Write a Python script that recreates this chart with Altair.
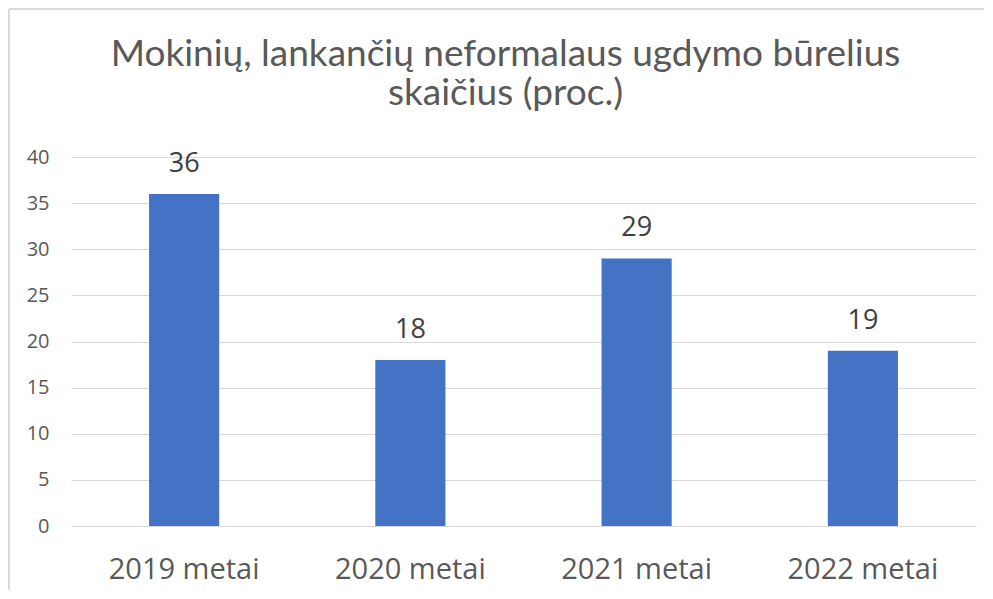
import altair as alt
import pandas as pd

categories = ["2019 metai", "2020 metai", "2021 metai", "2022 metai"]
values = [36, 18, 29, 19]
title_lines = ["Mokinių, lankančių neformalaus ugdymo būrelius", "skaičius (proc.)"]

df = pd.DataFrame({"metai": categories, "proc": values})

x = alt.X("metai:N", sort=categories, title=None,
          scale=alt.Scale(paddingInner=0.69, paddingOuter=0.345),
          axis=alt.Axis(labelAngle=0, ticks=False, domain=False, labelPadding=29,
                        labelFont="Open Sans", labelFontSize=29, labelColor="#595959"))
y = alt.Y("proc:Q", title=None,
          scale=alt.Scale(domain=[0, 40], nice=False),
          axis=alt.Axis(values=[0, 5, 10, 15, 20, 25, 30, 35, 40], ticks=False, domain=False,
                        labelPadding=22, labelFont="Open Sans", labelFontSize=20,
                        labelColor="#595959", gridColor="#d9d9d9", gridWidth=1))

bars = alt.Chart(df).mark_bar(color="#4472C4").encode(x=x, y=y)
labels = alt.Chart(df).mark_text(dy=-22, baseline="alphabetic", font="Open Sans",
                                 fontSize=27, color="#404040").encode(
    x=alt.X("metai:N", sort=categories), y="proc:Q", text="proc:Q")

frame_df = pd.DataFrame({"a": [0]})
border_top = alt.Chart(frame_df).mark_rule(color="#d9d9d9", strokeWidth=2).encode(
    x=alt.value(-62), x2=alt.value(913), y=alt.value(-148))
border_left = alt.Chart(frame_df).mark_rule(color="#d9d9d9", strokeWidth=2).encode(
    x=alt.value(-62), y=alt.value(-148), y2=alt.value(433))

chart = alt.layer(border_top, border_left, bars, labels).properties(
    width=905, height=369,
    background="white",
    autosize=alt.AutoSizeParams(type="none"),
    padding={"left": 63, "top": 149, "right": 9, "bottom": 65},
    title=alt.TitleParams(text=title_lines, font="Lato", fontSize=37,
                          fontWeight="normal", color="#595959", anchor="middle",
                          dx=-18, offset=-105, lineHeight=39),
).configure_view(stroke=None)

chart.save("out.html", embed_options={"renderer": "svg", "actions": False})
